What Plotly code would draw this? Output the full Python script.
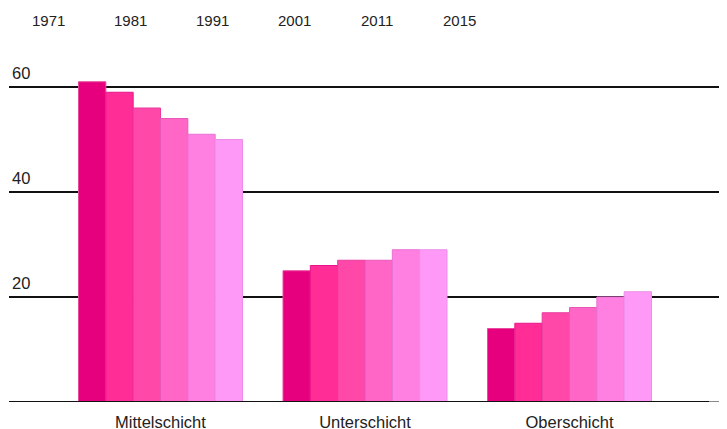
import plotly.graph_objects as go

categories = ["Mittelschicht", "Unterschicht", "Oberschicht"]
years = ["1971", "1981", "1991", "2001", "2011", "2015"]
values = {
    "1971": [61, 25, 14],
    "1981": [59, 26, 15],
    "1991": [56, 27, 17],
    "2001": [54, 27, 18],
    "2011": [51, 29, 20],
    "2015": [50, 29, 21],
}
fill_colors = ["#e6007e", "#ff2d95", "#ff48a8", "#ff66c6", "#ff80e0", "#ff99f7"]
line_colors = ["#ea4a9e", "#e8158a", "#e83a9e", "#e858b8", "#e872d4", "#ea8ee8"]
y_ticks = [20, 40, 60]

W, H = 727, 429
OFF = 8  # page body margin offset
L, R, T, B = 9 - OFF, 0, 50 - OFF, 429 - (402 - OFF)
plot_w = W - L - R
plot_h = H - T - B

fig = go.Figure()
for i, y in enumerate(years):
    fig.add_trace(go.Bar(
        name=y, x=categories, y=values[y],
        marker=dict(color=fill_colors[i], line=dict(color=line_colors[i], width=1)),
        showlegend=False,
    ))

# year labels at top (text-only legend)
for i, y in enumerate(years):
    px = 48.3 + i * 82.2 - OFF
    fig.add_annotation(
        text=y, xref="paper", yref="paper",
        x=(px - L) / plot_w, y=1 + (T - (20 - OFF)) / plot_h,
        xanchor="center", yanchor="middle", showarrow=False,
        font=dict(size=15, color="#222"),
    )

# baseline
split = (709 - OFF - L) / plot_w
fig.add_shape(type="line", xref="paper", yref="y", x0=0, x1=split, y0=0, y1=0,
              line=dict(color="#111", width=2), layer="above")
fig.add_shape(type="line", xref="paper", yref="y", x0=split, x1=1, y0=0, y1=0,
              line=dict(color="#888", width=2), layer="above")

px_per_cat = 204.5
r0 = -((160.5 - OFF) - L) / px_per_cat
r1 = r0 + plot_w / px_per_cat

fig.update_layout(
    width=W, height=H,
    margin=dict(l=L, r=R, t=T, b=B, autoexpand=False),
    paper_bgcolor="white", plot_bgcolor="white",
    barmode="group", bargap=0.198, bargroupgap=0,
    font=dict(family="Liberation Sans, Arial, sans-serif", size=15, color="#222"),
)
fig.update_xaxes(
    range=[r0, r1], showgrid=False, showline=False, ticks="",
    ticklabelstandoff=8, tickfont=dict(size=16.5, color="#222"), automargin=False,
)
fig.update_yaxes(
    range=[0, 352 / 5.25], tickvals=y_ticks, ticktext=[str(v) for v in y_ticks],
    showgrid=True, gridcolor="#111", gridwidth=1.5, zeroline=False, showline=False,
    ticklabelposition="inside top", ticklabelshift=-2,
    tickfont=dict(size=16.5, color="#222"),
    automargin=False, ticks="",
)

fig.write_html("out.html")
